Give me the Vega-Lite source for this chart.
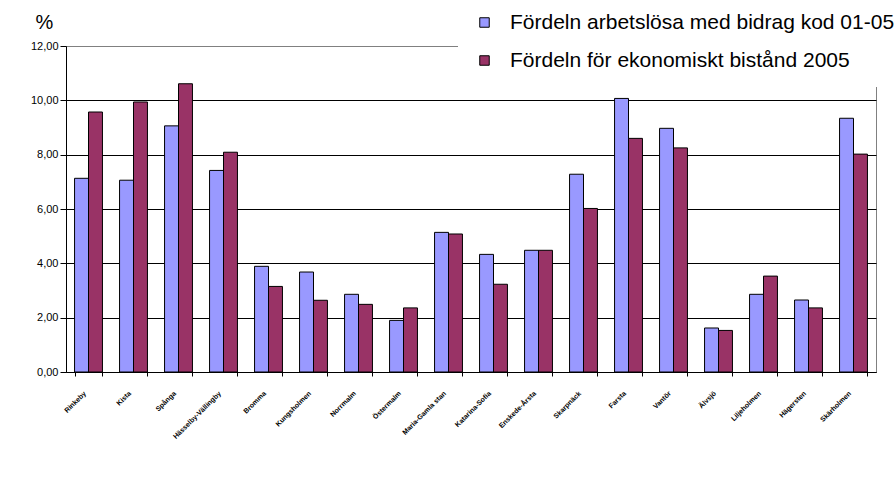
{
  "$schema": "https://vega.github.io/schema/vega-lite/v6.json",
  "width": 810,
  "height": 326,
  "autosize": "none",
  "padding": {"left": 66, "top": 46, "right": 20, "bottom": 117},
  "background": "white",
  "config": {
    "font": "Liberation Sans",
    "view": {"stroke": "#808080", "strokeWidth": 1}
  },
  "data": {
    "values": [
      {"distrikt": "Rinkeby", "serie": "Fördeln arbetslösa med bidrag kod 01-05", "varde": 7.13},
      {"distrikt": "Rinkeby", "serie": "Fördeln för ekonomiskt bistånd 2005", "varde": 9.57},
      {"distrikt": "Kista", "serie": "Fördeln arbetslösa med bidrag kod 01-05", "varde": 7.06},
      {"distrikt": "Kista", "serie": "Fördeln för ekonomiskt bistånd 2005", "varde": 9.94},
      {"distrikt": "Spånga", "serie": "Fördeln arbetslösa med bidrag kod 01-05", "varde": 9.06},
      {"distrikt": "Spånga", "serie": "Fördeln för ekonomiskt bistånd 2005", "varde": 10.61},
      {"distrikt": "Hässelby-Vällingby", "serie": "Fördeln arbetslösa med bidrag kod 01-05", "varde": 7.42},
      {"distrikt": "Hässelby-Vällingby", "serie": "Fördeln för ekonomiskt bistånd 2005", "varde": 8.09},
      {"distrikt": "Bromma", "serie": "Fördeln arbetslösa med bidrag kod 01-05", "varde": 3.89},
      {"distrikt": "Bromma", "serie": "Fördeln för ekonomiskt bistånd 2005", "varde": 3.15},
      {"distrikt": "Kungsholmen", "serie": "Fördeln arbetslösa med bidrag kod 01-05", "varde": 3.68},
      {"distrikt": "Kungsholmen", "serie": "Fördeln för ekonomiskt bistånd 2005", "varde": 2.64},
      {"distrikt": "Norrmalm", "serie": "Fördeln arbetslösa med bidrag kod 01-05", "varde": 2.86},
      {"distrikt": "Norrmalm", "serie": "Fördeln för ekonomiskt bistånd 2005", "varde": 2.49},
      {"distrikt": "Östermalm", "serie": "Fördeln arbetslösa med bidrag kod 01-05", "varde": 1.90},
      {"distrikt": "Östermalm", "serie": "Fördeln för ekonomiskt bistånd 2005", "varde": 2.36},
      {"distrikt": "Maria-Gamla stan", "serie": "Fördeln arbetslösa med bidrag kod 01-05", "varde": 5.14},
      {"distrikt": "Maria-Gamla stan", "serie": "Fördeln för ekonomiskt bistånd 2005", "varde": 5.08},
      {"distrikt": "Katarina-Sofia", "serie": "Fördeln arbetslösa med bidrag kod 01-05", "varde": 4.33},
      {"distrikt": "Katarina-Sofia", "serie": "Fördeln för ekonomiskt bistånd 2005", "varde": 3.23},
      {"distrikt": "Enskede-Årsta", "serie": "Fördeln arbetslösa med bidrag kod 01-05", "varde": 4.48},
      {"distrikt": "Enskede-Årsta", "serie": "Fördeln för ekonomiskt bistånd 2005", "varde": 4.48},
      {"distrikt": "Skarpnäck", "serie": "Fördeln arbetslösa med bidrag kod 01-05", "varde": 7.28},
      {"distrikt": "Skarpnäck", "serie": "Fördeln för ekonomiskt bistånd 2005", "varde": 6.02},
      {"distrikt": "Farsta", "serie": "Fördeln arbetslösa med bidrag kod 01-05", "varde": 10.07},
      {"distrikt": "Farsta", "serie": "Fördeln för ekonomiskt bistånd 2005", "varde": 8.60},
      {"distrikt": "Vantör", "serie": "Fördeln arbetslösa med bidrag kod 01-05", "varde": 8.97},
      {"distrikt": "Vantör", "serie": "Fördeln för ekonomiskt bistånd 2005", "varde": 8.25},
      {"distrikt": "Älvsjö", "serie": "Fördeln arbetslösa med bidrag kod 01-05", "varde": 1.62},
      {"distrikt": "Älvsjö", "serie": "Fördeln för ekonomiskt bistånd 2005", "varde": 1.53},
      {"distrikt": "Liljeholmen", "serie": "Fördeln arbetslösa med bidrag kod 01-05", "varde": 2.86},
      {"distrikt": "Liljeholmen", "serie": "Fördeln för ekonomiskt bistånd 2005", "varde": 3.53},
      {"distrikt": "Hägersten", "serie": "Fördeln arbetslösa med bidrag kod 01-05", "varde": 2.65},
      {"distrikt": "Hägersten", "serie": "Fördeln för ekonomiskt bistånd 2005", "varde": 2.36},
      {"distrikt": "Skärholmen", "serie": "Fördeln arbetslösa med bidrag kod 01-05", "varde": 9.34},
      {"distrikt": "Skärholmen", "serie": "Fördeln för ekonomiskt bistånd 2005", "varde": 8.02}
    ]
  },
  "mark": {"type": "bar", "stroke": "black", "strokeWidth": 1},
  "encoding": {
    "x": {
      "field": "distrikt",
      "type": "nominal",
      "sort": null,
      "scale": {"paddingInner": 0.38, "paddingOuter": 0.19},
      "axis": {
        "title": null,
        "labelAngle": -45,
        "labelAlign": "right",
        "labelBaseline": "middle",
        "labelPadding": 16,
        "labelOffset": -4,
        "labelFontSize": 7,
        "labelFontWeight": "bold",
        "labelColor": "black",
        "labelFont": "Liberation Sans",
        "labelOverlap": false,
        "domainColor": "black",
        "domainWidth": 1,
        "tickBand": "extent",
        "tickColor": "black",
        "tickSize": 4
      }
    },
    "xOffset": {
      "field": "serie",
      "type": "nominal",
      "sort": ["Fördeln arbetslösa med bidrag kod 01-05", "Fördeln för ekonomiskt bistånd 2005"]
    },
    "y": {
      "field": "varde",
      "type": "quantitative",
      "scale": {"domain": [0, 12], "nice": false},
      "axis": {
        "title": "%",
        "titleAngle": 0,
        "titleX": -31,
        "titleY": -18,
        "titleAlign": "left",
        "titleBaseline": "alphabetic",
        "titleFontSize": 20,
        "titleFontWeight": "normal",
        "titleColor": "black",
        "values": [0, 2, 4, 6, 8, 10, 12],
        "labelExpr": "replace(format(datum.value, '.2f'), '.', ',')",
        "labelFontSize": 11,
        "labelColor": "black",
        "labelPadding": 2,
        "domainColor": "black",
        "domainWidth": 1,
        "tickColor": "black",
        "tickSize": 6,
        "grid": true,
        "gridColor": {"condition": {"test": "datum.value == 12", "value": "#808080"}, "value": "black"},
        "gridWidth": 1
      }
    },
    "color": {
      "field": "serie",
      "type": "nominal",
      "sort": ["Fördeln arbetslösa med bidrag kod 01-05", "Fördeln för ekonomiskt bistånd 2005"],
      "scale": {"range": ["#9999FF", "#993366"]},
      "legend": {
        "title": null,
        "orient": "none",
        "legendX": 392,
        "legendY": -50,
        "padding": 16,
        "fillColor": "white",
        "symbolType": "square",
        "symbolSize": 90,
        "symbolStrokeColor": "black",
        "symbolStrokeWidth": 1,
        "symbolOpacity": 1,
        "labelFontSize": 21,
        "labelColor": "black",
        "labelFont": "Liberation Sans",
        "labelLimit": 500,
        "labelOffset": 15,
        "rowPadding": 16
      }
    }
  }
}
